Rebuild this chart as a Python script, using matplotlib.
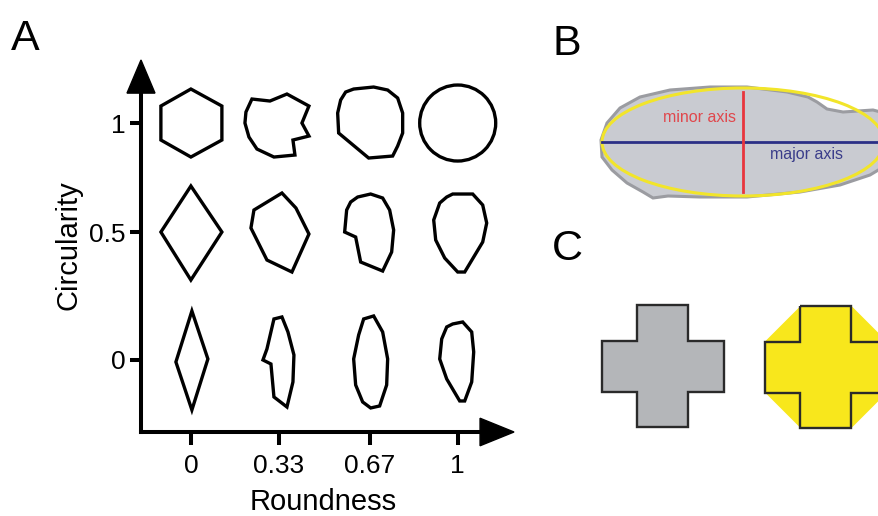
import numpy as np
import matplotlib.pyplot as plt
from matplotlib.patches import Polygon, Ellipse

plt.rcParams['font.family'] = ['Liberation Sans', 'DejaVu Sans']

W, H = 879, 516

# panel A: grid of example outlines
roundness = [0, 0.33, 0.67, 1]
roundness_labels = ["0", "0.33", "0.67", "1"]
circularity = [0, 0.54, 1]          # drawn row positions
circularity_labels = ["0", "0.5", "1"]

# outlines in pixels around the cell centre (x right, y down), key = (row, col)
outlines = {
    (2, 0): [(0, -34), (31, -17), (31, 17), (0, 34), (-30, 17), (-30, -17)],
    (2, 1): [(-27, -24), (-9, -22), (8, -29), (30, -17), (23, 0), (30, 13), (14, 17),
             (16, 32), (-5, 34), (-22, 26), (-30, 14), (-34, 0), (-33, -11)],
    (2, 2): [(-16, -34), (4, -36), (18, -33), (28, -25), (33, -10), (33, 10), (28, 23),
             (23, 33), (-1, 35), (-31, 10), (-32, -10), (-29, -23), (-24, -31)],
    (1, 0): [(0, -46), (31, 0), (0, 48), (-30, 0)],
    (1, 1): [(-25, -22), (3, -39), (17, -24), (30, 2), (13, 40), (-12, 28), (-28, -4)],
    (1, 2): [(-12, -35), (1, -38), (13, -34), (20, -22), (24, -2), (22, 20), (13, 39),
             (-9, 30), (-14, 5), (-25, 0), (-23, -22), (-19, -30)],
    (1, 3): [(-5, -38), (15, -38), (25, -27), (29, -9), (25, 10), (7, 40), (0, 40),
             (-13, 26), (-22, 8), (-24, -12), (-18, -29), (-11, -35)],
    (0, 0): [(1, -49), (17, -1), (1, 50), (-15, 2)],
    (0, 1): [(-5, -41), (3, -43), (9, -28), (15, -5), (14, 22), (8, 47), (-5, 37),
             (-8, 4), (-16, 0), (-12, -11)],
    (0, 2): [(-6, -41), (4, -44), (13, -28), (18, -1), (17, 25), (10, 46), (1, 48),
             (-7, 42), (-14, 25), (-16, -1), (-11, -25)],
    (0, 3): [(-5, -36), (5, -38), (14, -28), (16, -8), (14, 22), (7, 41), (2, 41),
             (-11, 19), (-18, -1), (-16, -21), (-11, -33)],
}
circle_radius = 38  # row 2, col 3

# panel B: cell outline and fitted ellipse (pixels)
blob_x = [601, 607, 620, 640, 670, 710, 747, 787, 808, 817, 827, 843, 873, 892, 898,
          890, 870, 840, 800, 747, 700, 668, 653, 643, 627, 612, 602]
blob_y = [140, 123, 108, 97, 90, 87, 87, 92, 97, 102, 109, 112, 110, 115, 140,
          163, 175, 185, 192, 197, 197, 196, 198, 192, 183, 170, 157]
ell_center = (743, 142)
ell_major, ell_minor = 141, 54

# panel C: cross and its convex hull
cross_centers = [(663, 366), (826, 367)]
arm_half, arm_len = 25.5, 61

fig = plt.figure(figsize=(W / 100, H / 100), dpi=100)

# ---------------- panel A
left, right, top, bottom = 141, 514, 60, 432
xlim = (-0.187, 1.211)
ylim = (-0.304, 1.266)
ppu_x = (right - left) / (xlim[1] - xlim[0])
ppu_y = (bottom - top) / (ylim[1] - ylim[0])

ax = fig.add_axes([left / W, 1 - bottom / H, (right - left) / W, (bottom - top) / H])
ax.set_xlim(*xlim)
ax.set_ylim(*ylim)
ax.patch.set_visible(False)
for s in ["top", "right"]:
    ax.spines[s].set_visible(False)
for s in ["left", "bottom"]:
    ax.spines[s].set_linewidth(2.9)
ax.spines["left"].set_bounds(ylim[0], ylim[0] + (bottom - 92) / ppu_y)
ax.spines["bottom"].set_bounds(xlim[0], xlim[0] + (481 - left) / ppu_x)

ax.set_xticks(roundness)
ax.set_xticklabels(roundness_labels, fontsize=19)
ax.set_yticks(circularity)
ax.set_yticklabels(circularity_labels, fontsize=19)
ax.tick_params(axis="x", length=9.5, width=2.9, pad=6)
ax.tick_params(axis="y", length=8, width=2.9, pad=3)

# arrow heads
ax.add_patch(Polygon([(0, 1), (-0.0375, 0.911), (0.0375, 0.911)], closed=True,
                     color="black", transform=ax.transAxes, clip_on=False))
ax.add_patch(Polygon([(1, 0), (0.909, 0.037), (0.909, -0.037)], closed=True,
                     color="black", transform=ax.transAxes, clip_on=False))

for (r, c), pts in outlines.items():
    pts = np.array(pts, dtype=float)
    xs = roundness[c] + pts[:, 0] / ppu_x
    ys = circularity[r] - pts[:, 1] / ppu_y
    ax.add_patch(Polygon(np.c_[xs, ys], closed=True, fill=False, lw=2.4,
                         ec="black", joinstyle="miter", clip_on=False))
ax.add_patch(Ellipse((roundness[3], circularity[2]), 2 * circle_radius / ppu_x,
                     2 * circle_radius / ppu_y, fill=False, lw=2.4, ec="black"))

fig.text(68 / W, 1 - 245 / H, "Circularity", fontsize=21, rotation=90,
         ha="center", va="center")
fig.text(323 / W, 1 - 502 / H, "Roundness", fontsize=21, ha="center", va="center")

# ---------------- panels B and C (pixel space)
ax2 = fig.add_axes([0, 0, 1, 1])
ax2.set_xlim(0, W)
ax2.set_ylim(H, 0)
ax2.axis("off")

ax2.add_patch(Polygon(np.c_[blob_x, blob_y], closed=True, fc="#c9cbd1",
                      ec="#9b9ca1", lw=2.2))
ax2.add_patch(Ellipse(ell_center, 2 * ell_major, 2 * ell_minor, fill=False,
                      ec="#f2e52a", lw=2.2))
ax2.plot([ell_center[0] - ell_major, W + 5], [ell_center[1], ell_center[1]],
         color="#2b2f86", lw=2.0)
ax2.plot([ell_center[0], ell_center[0]], [ell_center[1] - ell_minor + 4,
                                           ell_center[1] + ell_minor - 4],
         color="#e8353d", lw=2.0)
ax2.text(ell_center[0] - 7, 118, "minor axis", color="#e0474c", fontsize=11.5,
         ha="right", va="center")
ax2.text(ell_center[0] + 27, 154, "major axis", color="#3a3d8a", fontsize=11.5,
         ha="left", va="center")

a, L = arm_half, arm_len
cross = np.array([(-a, -L), (a, -L), (a, -a), (L, -a), (L, a), (a, a), (a, L),
                  (-a, L), (-a, a), (-L, a), (-L, -a), (-a, -a)])
hull = np.array([(-a, -L), (a, -L), (L, -a), (L, a), (a, L), (-a, L), (-L, a), (-L, -a)])

cx, cy = cross_centers[0]
ax2.add_patch(Polygon(cross + (cx, cy), closed=True, fc="#b4b6b9", ec="#2a2a2a",
                      lw=1.7, joinstyle="miter"))
cx, cy = cross_centers[1]
ax2.add_patch(Polygon(hull + (cx, cy), closed=True, fc="#f8e71c", ec="none"))
ax2.add_patch(Polygon(cross + (cx, cy), closed=True, fill=False, ec="#2a2a2a",
                      lw=1.7, joinstyle="miter"))

# panel letters
fig.text(11 / W, 1 - 50 / H, "A", fontsize=31, va="baseline")
fig.text(553 / W, 1 - 55 / H, "B", fontsize=31, va="baseline")
fig.text(552 / W, 1 - 260 / H, "C", fontsize=31, va="baseline")

fig.savefig("out.png", dpi=100)
